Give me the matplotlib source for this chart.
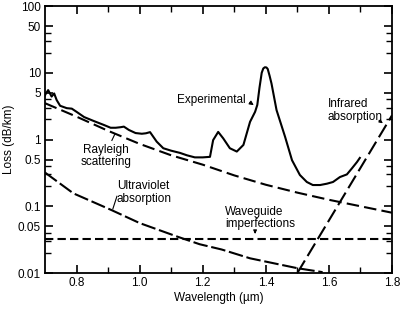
import matplotlib
matplotlib.use("Agg")
import matplotlib.pyplot as plt
from matplotlib.ticker import FixedLocator, NullFormatter, FixedFormatter

plt.rcParams['font.family'] = ['Liberation Sans Narrow', 'Liberation Sans', 'DejaVu Sans']

# Experimental loss curve
exp_wl = [0.700, 0.703, 0.710, 0.721, 0.729, 0.737, 0.748, 0.769, 0.785, 0.800, 0.824,
          0.855, 0.887, 0.908, 0.924, 0.940, 0.950, 0.966, 0.987, 1.007, 1.020, 1.033,
          1.054, 1.075, 1.100, 1.128, 1.150, 1.175, 1.200, 1.223, 1.233, 1.249, 1.265,
          1.286, 1.308, 1.329, 1.350, 1.366, 1.373, 1.380, 1.387, 1.392, 1.397, 1.402,
          1.406, 1.412, 1.418, 1.434, 1.461, 1.483, 1.508, 1.530, 1.549, 1.572, 1.594,
          1.613, 1.635, 1.657, 1.673, 1.689, 1.698]
exp_loss = [4.6, 4.9, 5.5, 4.4, 4.9, 3.9, 3.2, 2.95, 2.9, 2.6, 2.17,
            1.89, 1.65, 1.50, 1.50, 1.53, 1.56, 1.39, 1.25, 1.22, 1.24, 1.29,
            0.93, 0.74, 0.68, 0.63, 0.58, 0.54, 0.54, 0.55, 0.98, 1.30, 1.04,
            0.74, 0.66, 0.83, 1.84, 2.6, 3.3, 6.0, 10.0, 11.6, 12.1, 12.0,
            11.4, 9.0, 6.9, 2.76, 1.1, 0.49, 0.294, 0.231, 0.208, 0.208, 0.218,
            0.231, 0.274, 0.30, 0.37, 0.46, 0.53]

# Rayleigh scattering
ray_wl = [0.70, 0.80, 0.90, 1.00, 1.10, 1.20, 1.30, 1.40, 1.50, 1.60, 1.70, 1.80]
ray_loss = [3.5, 2.2, 1.35, 0.86, 0.58, 0.42, 0.29, 0.21, 0.16, 0.125, 0.10, 0.08]

# Ultraviolet absorption
uv_wl = [0.70, 0.79, 0.91, 1.00, 1.12, 1.19, 1.26, 1.35, 1.50, 1.58]
uv_loss = [0.32, 0.156, 0.088, 0.056, 0.035, 0.027, 0.0225, 0.0166, 0.0118, 0.0103]

# Waveguide imperfections
wg_wl = [0.70, 1.80]
wg_loss = [0.032, 0.032]

# Infrared absorption
ir_wl = [1.50, 1.80]
ir_loss = [0.01, 2.3]

xticks = [0.8, 1.0, 1.2, 1.4, 1.6, 1.8]
xtick_labels = ['0.8', '1.0', '1.2', '1.4', '1.6', '1.8']
xminor = [0.9, 1.1, 1.3, 1.5, 1.7]
yticks_labeled = [0.01, 0.05, 0.1, 0.5, 1, 5, 10, 50, 100]
ytick_labels = ['0.01', '0.05', '0.1', '0.5', '1', '5', '10', '50', '100']
yminor = [0.02, 0.03, 0.04, 0.2, 0.3, 0.4, 2, 3, 4, 20, 30, 40]

fig = plt.figure(figsize=(4.0, 3.09), dpi=100)
ax = fig.add_axes([0.1125, 0.1165, 0.8675, 0.864])
ax.set_yscale('log')
ax.set_xlim(0.7, 1.8)
ax.set_ylim(0.01, 100)

lw = 1.5
ax.plot(exp_wl, exp_loss, color='black', lw=lw, solid_joinstyle='round')
ax.plot(ray_wl, ray_loss, color='black', lw=lw, dashes=(6, 2.5))
ax.plot(uv_wl, uv_loss, color='black', lw=lw, dashes=(7, 1.8))
ax.plot(wg_wl, wg_loss, color='black', lw=lw, dashes=(4, 2))
ax.plot(ir_wl, ir_loss, color='black', lw=lw, dashes=(7, 2.5))

ax.xaxis.set_major_locator(FixedLocator(xticks))
ax.xaxis.set_major_formatter(FixedFormatter(xtick_labels))
ax.xaxis.set_minor_locator(FixedLocator(xminor))
ax.xaxis.set_minor_formatter(NullFormatter())
ax.yaxis.set_major_locator(FixedLocator(yticks_labeled))
ax.yaxis.set_major_formatter(FixedFormatter(ytick_labels))
ax.yaxis.set_minor_locator(FixedLocator(yminor))
ax.yaxis.set_minor_formatter(NullFormatter())

ax.tick_params(which='major', direction='in', length=6, width=1.2, labelsize=8.5,
               top=True, right=True, pad=3)
ax.tick_params(which='minor', direction='in', length=4, width=1.0, top=True, right=True)
for s in ax.spines.values():
    s.set_linewidth(1.3)

ax.set_xlabel('Wavelength (µm)', fontsize=8.5, labelpad=2)
ax.set_ylabel('Loss (dB/km)', fontsize=8.5, labelpad=2)

fs = 8.5
ax.text(1.337, 3.9, 'Experimental', fontsize=fs, ha='right', va='center')
ax.annotate('', xy=(1.369, 3.1), xytext=(1.342, 3.8),
            arrowprops=dict(arrowstyle='-|>', lw=0.8, color='black', mutation_scale=6))
ax.text(0.893, 0.566, 'Rayleigh\nscattering', fontsize=fs, ha='center', va='center',
        multialignment='center', linespacing=1.1)
ax.plot([0.912, 0.922], [0.97, 1.22], color='black', lw=0.8)
ax.text(0.928, 0.163, 'Ultraviolet\nabsorption', fontsize=fs, ha='left', va='center',
        multialignment='left', linespacing=1.1)
ax.plot([0.928, 0.915], [0.141, 0.091], color='black', lw=0.8)
ax.text(1.2705, 0.0667, 'Waveguide\nimperfections', fontsize=fs, ha='left', va='center',
        multialignment='left', linespacing=1.1)
ax.annotate('', xy=(1.366, 0.035), xytext=(1.366, 0.046),
            arrowprops=dict(arrowstyle='-|>', lw=0.8, color='black', mutation_scale=5))
ax.text(1.597, 2.72, 'Infrared\nabsorption', fontsize=fs, ha='left', va='center',
        multialignment='left', linespacing=1.1)
ax.annotate('', xy=(1.778, 1.65), xytext=(1.752, 2.05),
            arrowprops=dict(arrowstyle='-|>', lw=0.8, color='black', mutation_scale=5))

fig.savefig('out.png', dpi=100)
